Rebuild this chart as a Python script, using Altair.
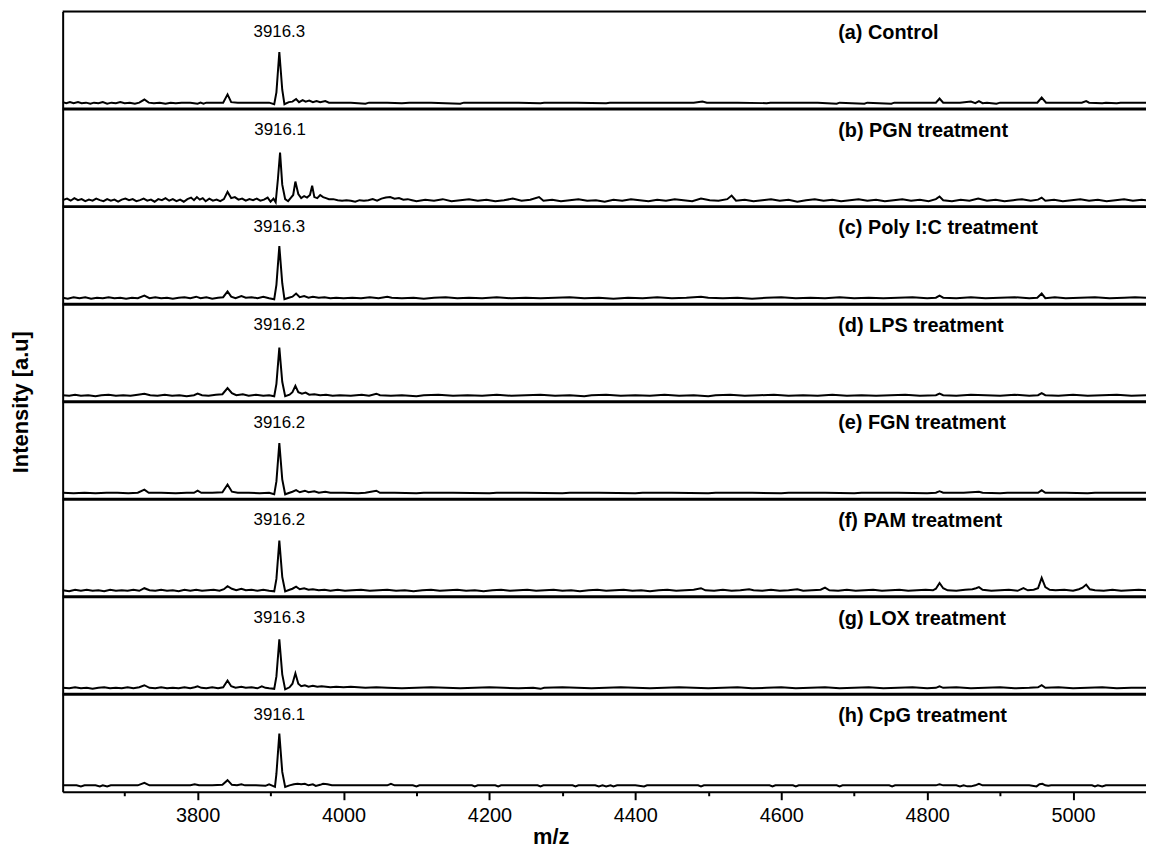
import altair as alt
import pandas as pd

PANEL_LABELS = ["(a) Control", "(b) PGN treatment", "(c) Poly I:C treatment", "(d) LPS treatment",
                "(e) FGN treatment", "(f) PAM treatment", "(g) LOX treatment", "(h) CpG treatment"]
PEAK_LABELS = ["3916.3", "3916.1", "3916.3", "3916.2", "3916.2", "3916.2", "3916.3", "3916.1"]
PEAK_MZ = [3912, 3913, 3912, 3912, 3912, 3912, 3912, 3912]
LABEL_MZ = 4678

TICKS_MAJOR = [3800, 4000, 4200, 4400, 4600, 4800, 5000]
TICKS_MINOR = [3700, 3900, 4100, 4300, 4500, 4700, 4900]
MZ_RANGE = [3615, 5100]

SPEC_A = [(3615,1),(3620,-1),(3625,1),(3630,-1),(3636,1),(3641,-1),(3647,0),(3653,-2),(3658,0),(3664,-1),(3670,1),(3676,-2),
          (3682,0),(3688,-1),(3694,1),(3700,-1),(3707,0),(3714,-2),(3720,0),(3727,6),(3733,0),(3740,-1),(3748,0),(3756,-2),
          (3763,0),(3770,-1),(3778,0),(3790,0),(3800,-2),(3804,0),(3808,-2),(3812,0),(3825,0),(3835,0),(3841,16),(3846,1),
          (3855,0),(3870,0),(3885,0),(3898,0),(3905,-3),(3908,20),(3912,98),(3916,25),(3919,-3),(3925,1),(3930,2),(3935,7),
          (3939,1),(3944,5),(3948,2),(3953,4),(3958,1),(3963,3),(3968,1),(3975,3),(3980,0),(3990,0),(4010,0),(4030,-2),
          (4035,0),(4060,0),(4080,-1),(4090,0),(4120,0),(4160,-2),(4165,0),(4200,0),(4240,0),(4270,-1),(4275,0),(4320,0),
          (4360,-1),(4365,0),(4400,0),(4440,0),(4480,0),(4492,2),(4498,0),(4540,0),(4580,-1),(4585,0),(4620,0),(4650,0),
          (4676,-2),(4680,0),(4714,-2),(4718,0),(4751,-2),(4755,0),(4790,0),(4812,0),(4817,8),(4822,0),(4845,0),(4860,2),
          (4866,-1),(4871,3),(4876,-1),(4882,0),(4895,-2),(4900,0),(4930,0),(4951,0),(4957,10),(4963,0),(4990,0),(5012,0),
          (5018,3),(5022,0),(5040,-1),(5045,0),(5060,-1),(5065,0),(5100,0)]

SPEC_B = [(3615,0),(3621,3),(3626,-1),(3631,4),(3636,0),(3641,2),(3646,-2),(3651,1),(3656,-1),(3661,3),(3666,0),(3671,-2),
          (3676,2),(3681,-1),(3686,1),(3691,-3),(3696,1),(3701,3),(3706,0),(3711,2),(3716,-2),(3721,0),(3726,3),(3731,-1),
          (3736,1),(3741,-3),(3746,2),(3751,0),(3756,4),(3761,-1),(3766,2),(3771,-2),(3776,1),(3781,-3),(3786,2),(3791,5),
          (3795,0),(3799,6),(3803,1),(3807,4),(3811,-2),(3816,3),(3821,-1),(3826,1),(3831,-2),(3836,2),(3841,16),(3846,4),
          (3851,6),(3856,1),(3861,3),(3866,-1),(3871,2),(3876,0),(3881,3),(3886,-1),(3891,1),(3896,5),(3900,-3),(3904,3),
          (3907,-4),(3910,40),(3913,92),(3916,30),(3920,2),(3924,-2),(3928,5),(3931,10),(3934,36),(3938,12),(3942,4),(3946,8),
          (3950,5),(3954,10),(3957,28),(3960,6),(3964,4),(3968,10),(3972,6),(3976,4),(3980,2),(3986,2),(3992,0),(3998,-1),
          (4004,0),(4010,-1),(4016,-3),(4022,0),(4028,-1),(4034,0),(4040,2),(4046,-1),(4052,3),(4058,5),(4064,6),(4070,3),
          (4076,4),(4082,1),(4088,2),(4094,0),(4100,-2),(4112,1),(4124,-1),(4136,2),(4148,-2),(4160,0),(4172,2),(4184,-1),
          (4196,1),(4208,-2),(4220,0),(4232,3),(4244,-1),(4256,1),(4268,6),(4274,-1),(4286,1),(4298,-2),(4310,0),(4322,2),
          (4334,-1),(4346,0),(4358,-3),(4370,1),(4382,-1),(4394,2),(4406,0),(4418,-2),(4430,1),(4442,-1),(4454,2),(4466,0),
          (4478,-2),(4490,3),(4502,0),(4514,-1),(4526,2),(4532,9),(4538,-1),(4550,1),(4562,-2),(4574,0),(4586,2),(4598,-1),
          (4610,1),(4622,-3),(4634,0),(4646,2),(4658,-1),(4670,1),(4682,-2),(4694,0),(4706,2),(4718,-1),(4730,1),(4742,-2),
          (4754,0),(4766,2),(4778,-1),(4790,1),(4802,-2),(4812,2),(4817,7),(4822,0),(4834,-2),(4846,1),(4858,-1),(4870,3),
          (4882,-1),(4894,1),(4906,-2),(4918,0),(4930,2),(4942,-1),(4952,1),(4957,5),(4962,-1),(4974,1),(4986,-2),(4998,0),
          (5010,2),(5022,-1),(5034,1),(5046,-2),(5058,0),(5070,2),(5082,-1),(5094,1),(5100,0)]

SPEC_C = [(3615,0),(3622,-2),(3630,1),(3638,-1),(3646,1),(3654,-2),(3662,0),(3670,-1),(3678,1),(3686,-1),(3694,0),(3702,-2),
          (3710,0),(3718,-1),(3727,4),(3734,-1),(3742,1),(3750,-1),(3758,0),(3766,-2),(3774,0),(3782,1),(3790,-1),(3798,2),
          (3804,-1),(3812,1),(3820,-2),(3828,0),(3835,1),(3841,12),(3846,2),(3852,-1),(3860,3),(3866,0),(3874,1),(3882,-1),
          (3890,2),(3898,-1),(3905,-3),(3908,25),(3912,100),(3916,28),(3919,-3),(3925,0),(3930,2),(3935,8),(3940,1),(3946,3),
          (3952,0),(3958,2),(3966,0),(3974,1),(3982,-1),(3990,0),(4000,-1),(4012,0),(4024,-1),(4036,1),(4048,-1),(4060,2),
          (4066,0),(4080,-1),(4096,0),(4110,-2),(4124,0),(4140,1),(4156,-1),(4172,0),(4190,-1),(4210,1),(4230,-1),(4250,0),
          (4270,-1),(4290,0),(4310,1),(4330,-1),(4350,0),(4370,-2),(4390,0),(4410,-1),(4430,1),(4450,-1),(4470,0),(4490,2),
          (4500,0),(4520,-1),(4540,0),(4560,-2),(4580,0),(4600,1),(4620,-1),(4640,0),(4660,-1),(4680,1),(4700,-1),(4720,0),
          (4740,-1),(4760,0),(4780,1),(4800,-1),(4812,0),(4817,4),(4822,0),(4840,-1),(4860,1),(4880,-1),(4900,0),(4920,1),
          (4940,-1),(4951,0),(4957,8),(4962,-1),(4975,1),(4990,-1),(5010,0),(5030,1),(5050,-1),(5070,0),(5085,1),(5100,0)]

SPEC_D = [(3615,0),(3624,-1),(3632,1),(3640,-1),(3650,0),(3660,-2),(3668,0),(3678,1),(3688,-1),(3698,0),(3708,-1),(3718,1),
          (3727,3),(3735,0),(3745,-1),(3755,1),(3765,-1),(3775,0),(3785,-2),(3795,0),(3800,3),(3806,0),(3815,-1),(3825,1),
          (3834,2),(3841,14),(3847,4),(3853,0),(3862,2),(3870,-1),(3880,1),(3890,-1),(3898,0),(3905,-2),(3908,22),(3912,92),
          (3916,26),(3920,-2),(3926,1),(3930,6),(3934,18),(3938,6),(3943,3),(3948,5),(3953,1),(3960,2),(3968,0),(3976,1),
          (3985,-1),(3995,0),(4010,-1),(4025,1),(4035,-1),(4045,3),(4050,0),(4065,-1),(4080,0),(4100,-2),(4110,0),(4130,1),
          (4150,-1),(4170,0),(4190,-1),(4210,1),(4230,-1),(4250,0),(4270,1),(4290,-1),(4310,0),(4330,-2),(4340,0),(4360,1),
          (4380,-1),(4400,0),(4420,-1),(4440,1),(4460,-1),(4480,0),(4500,-2),(4510,0),(4530,1),(4550,-1),(4570,0),(4590,1),
          (4610,-1),(4630,0),(4650,-1),(4670,1),(4690,-1),(4710,0),(4730,-1),(4750,0),(4770,1),(4790,-1),(4812,0),(4817,3),
          (4822,0),(4840,-1),(4860,1),(4880,0),(4900,-1),(4920,1),(4940,-1),(4952,0),(4957,4),(4962,0),(4980,-1),(5000,1),
          (5020,-1),(5040,0),(5060,1),(5080,-1),(5100,0)]

SPEC_E = [(3615,0),(3630,-1),(3645,0),(3660,-1),(3675,0),(3690,0),(3705,-1),(3718,0),(3727,6),(3733,0),(3750,0),(3770,-1),
          (3785,0),(3795,0),(3800,4),(3805,0),(3820,0),(3834,1),(3841,16),(3847,2),(3855,0),(3870,0),(3885,-1),(3898,0),
          (3905,-3),(3908,22),(3912,96),(3916,26),(3920,-3),(3926,0),(3930,2),(3935,5),(3940,1),(3947,4),(3952,1),(3960,3),
          (3966,0),(3975,2),(3982,0),(4000,0),(4020,-1),(4030,0),(4045,4),(4050,0),(4070,0),(4100,-1),(4110,0),(4150,0),
          (4200,-1),(4210,0),(4250,0),(4300,-1),(4310,0),(4350,0),(4400,-1),(4410,0),(4450,0),(4500,-1),(4510,0),(4560,0),
          (4600,-1),(4610,0),(4660,0),(4700,-1),(4710,0),(4760,0),(4800,-1),(4812,0),(4817,3),(4822,0),(4850,0),(4871,2),
          (4876,0),(4900,-1),(4910,0),(4940,0),(4952,0),(4957,5),(4962,0),(4990,0),(5020,-1),(5030,0),(5060,0),(5100,0)]

SPEC_F = [(3615,0),(3624,-2),(3632,1),(3640,-1),(3648,1),(3656,-1),(3664,0),(3672,-2),(3680,1),(3688,-1),(3696,0),(3704,-1),
          (3712,1),(3720,-1),(3727,4),(3734,0),(3742,-1),(3750,1),(3758,-1),(3766,0),(3774,-2),(3782,1),(3790,-1),(3798,1),
          (3806,-1),(3814,0),(3822,1),(3830,-1),(3836,2),(3841,8),(3847,3),(3853,0),(3860,3),(3866,0),(3874,1),(3882,-1),
          (3890,1),(3898,-1),(3905,-2),(3908,22),(3912,96),(3916,26),(3920,-2),(3926,1),(3930,3),(3935,7),(3940,2),(3946,4),
          (3952,1),(3958,2),(3966,0),(3974,1),(3982,-1),(3992,1),(4002,-1),(4012,0),(4024,1),(4036,-1),(4048,0),(4060,1),
          (4072,-1),(4084,0),(4096,-2),(4108,0),(4120,1),(4132,-1),(4144,0),(4156,1),(4168,-1),(4180,0),(4192,-2),(4204,0),
          (4216,1),(4228,-1),(4240,0),(4252,1),(4264,-1),(4276,0),(4288,1),(4300,-1),(4312,0),(4324,-2),(4336,0),(4348,1),
          (4360,-1),(4372,0),(4384,1),(4396,-1),(4408,0),(4420,-2),(4432,0),(4444,1),(4456,-1),(4468,0),(4480,1),(4490,4),
          (4496,0),(4508,-1),(4520,1),(4532,-1),(4544,0),(4556,2),(4562,0),(4574,-1),(4586,1),(4598,-1),(4610,0),(4622,2),
          (4630,-1),(4642,0),(4654,1),(4660,5),(4666,0),(4678,-1),(4690,1),(4702,-1),(4714,0),(4726,1),(4738,-1),(4750,0),
          (4762,1),(4774,-1),(4786,0),(4798,1),(4808,0),(4812,3),(4817,14),(4822,4),(4828,0),(4840,-1),(4852,1),(4862,2),
          (4867,4),(4871,6),(4876,1),(4888,-1),(4900,0),(4912,1),(4924,-1),(4932,4),(4938,0),(4946,1),(4952,4),(4957,24),
          (4962,6),(4968,1),(4976,0),(4988,1),(5000,-1),(5008,2),(5013,5),(5018,11),(5023,2),(5030,0),(5042,-1),(5054,1),
          (5066,-1),(5078,0),(5090,1),(5100,0)]

SPEC_G = [(3615,0),(3624,-1),(3632,1),(3640,-1),(3648,0),(3656,-2),(3664,0),(3672,1),(3680,-1),(3688,0),(3696,-1),(3704,1),
          (3712,-1),(3720,1),(3727,5),(3734,0),(3742,-1),(3750,1),(3758,-1),(3766,0),(3774,-1),(3782,1),(3790,-1),(3796,1),
          (3800,3),(3805,0),(3812,-1),(3820,1),(3828,-1),(3835,1),(3841,14),(3846,3),(3852,0),(3860,2),(3866,0),(3874,1),
          (3882,-1),(3888,3),(3893,0),(3898,-1),(3905,-2),(3908,22),(3912,94),(3916,26),(3920,-3),(3926,1),(3930,8),(3934,28),
          (3938,8),(3942,3),(3947,5),(3952,2),(3958,4),(3964,2),(3970,3),(3976,2),(3982,1),(3990,2),(4000,1),(4010,2),
          (4020,1),(4030,0),(4045,1),(4060,0),(4080,-1),(4100,0),(4120,1),(4140,0),(4160,-1),(4180,0),(4200,1),(4220,0),
          (4240,-1),(4260,0),(4270,-2),(4275,0),(4300,1),(4320,0),(4340,-1),(4360,0),(4380,1),(4400,0),(4420,-1),(4440,0),
          (4460,1),(4480,0),(4500,-1),(4520,0),(4540,1),(4560,-1),(4580,0),(4600,1),(4620,-1),(4640,0),(4660,1),(4680,-1),
          (4700,0),(4720,1),(4740,-1),(4760,0),(4780,1),(4800,-1),(4812,0),(4817,3),(4822,0),(4840,1),(4860,-1),(4880,0),
          (4900,1),(4920,-1),(4940,0),(4952,1),(4957,5),(4962,0),(4980,1),(5000,-1),(5020,0),(5040,1),(5060,-1),(5080,0),
          (5100,0)]

SPEC_H = [(3615,0),(3634,0),(3640,-2),(3645,0),(3660,0),(3666,-2),(3670,0),(3676,-2),(3681,0),(3700,0),(3718,0),(3727,5),
          (3734,0),(3760,0),(3790,0),(3796,2),(3802,0),(3820,0),(3834,1),(3841,10),(3847,1),(3854,0),(3860,2),(3865,0),
          (3880,0),(3893,-1),(3898,2),(3903,-1),(3906,-3),(3908,22),(3912,100),(3916,26),(3920,-3),(3926,0),(3932,2),(3937,3),
          (3942,2),(3947,3),(3952,0),(3958,2),(3962,-1),(3968,1),(3972,3),(3978,2),(3984,0),(4000,0),(4030,0),(4060,0),
          (4065,3),(4070,0),(4095,0),(4100,-2),(4104,0),(4150,0),(4176,0),(4180,-2),(4184,0),(4208,0),(4212,-2),(4216,0),
          (4250,0),(4266,0),(4270,-2),(4274,0),(4300,0),(4314,0),(4318,-2),(4322,0),(4345,0),(4350,-2),(4355,0),(4360,-2),
          (4366,0),(4370,-2),(4375,0),(4400,0),(4412,-2),(4416,0),(4450,0),(4486,0),(4490,-2),(4494,0),(4540,0),(4584,0),
          (4588,-2),(4592,0),(4616,0),(4620,-2),(4624,0),(4650,0),(4676,0),(4680,-2),(4684,0),(4720,0),(4748,0),(4752,-2),
          (4756,0),(4790,0),(4812,0),(4817,2),(4822,0),(4840,0),(4845,-2),(4850,0),(4855,-2),(4860,-2),(4866,0),(4871,3),
          (4876,0),(4900,0),(4940,0),(4950,-2),(4954,2),(4958,3),(4962,0),(4966,-1),(4970,0),(5000,0),(5026,0),(5030,-2),
          (5034,0),(5040,-2),(5045,0),(5070,0),(5100,0)]

SPECTRA = [SPEC_A, SPEC_B, SPEC_C, SPEC_D, SPEC_E, SPEC_F, SPEC_G, SPEC_H]
N = len(SPECTRA)

rows = []
for i, spec in enumerate(SPECTRA):
    for mz, v in spec:
        rows.append({"panel": i, "mz": mz, "intensity": v})
spec_df = pd.DataFrame(rows)

label_df = pd.DataFrame({
    "panel": list(range(N)),
    "peak_label": PEAK_LABELS,
    "peak_mz": PEAK_MZ,
    "name": PANEL_LABELS,
    "name_mz": [LABEL_MZ] * N,
})
sep_df = pd.DataFrame({"b": list(range(1, N))})
top_df = pd.DataFrame({"b": [N]})

FONT = "Liberation Sans"
BASE = 0.066
SCALE = 0.0053

xscale = alt.Scale(domain=MZ_RANGE, nice=False, zero=False)
yscale = alt.Scale(domain=[0, N], nice=False, zero=False)

xaxis = alt.Axis(
    values=sorted(TICKS_MAJOR + TICKS_MINOR),
    labelExpr="datum.value % 200 == 0 ? format(datum.value, 'd') : ''",
    tickSize=alt.condition("datum.value % 200 == 0", alt.value(8), alt.value(4)),
    tickColor="black", tickWidth=2, domainColor="black", domainWidth=2,
    labelFont=FONT, labelFontSize=20, labelColor="black", labelPadding=6, labelFlush=False,
    title="m/z", titleFont=FONT, titleFontSize=22, titleFontWeight="bold", titleColor="black",
    titlePadding=1, titleX=491, grid=False,
)
yaxis = alt.Axis(
    labels=False, ticks=False, tickSize=0, grid=False, domain=True, domainColor="black", domainWidth=2,
    title="Intensity [a.u]", titleFont=FONT, titleFontSize=22, titleFontWeight="bold", titleColor="black",
    titlePadding=30,
)

X = lambda f: alt.X(f, scale=xscale, axis=xaxis, title="m/z")
Y = lambda f: alt.Y(f, scale=yscale, axis=yaxis, title="Intensity [a.u]")

lines = alt.Chart(spec_df).transform_calculate(
    yy=f"{N - 1} - datum.panel + {BASE} + datum.intensity * {SCALE}"
).mark_line(color="black", strokeWidth=2, clip=True).encode(
    x=X("mz:Q"), y=Y("yy:Q"), detail="panel:N"
)

seps = alt.Chart(sep_df).mark_rule(color="black", strokeWidth=3).encode(y=Y("b:Q"))
top = alt.Chart(top_df).mark_rule(color="black", strokeWidth=2).encode(y=Y("b:Q"))

peak_text = alt.Chart(label_df).transform_calculate(
    yy=f"{N} - datum.panel - 0.214"
).mark_text(font=FONT, fontSize=17, color="black", align="center", baseline="middle").encode(
    x=X("peak_mz:Q"), y=Y("yy:Q"), text="peak_label:N"
)

name_text = alt.Chart(label_df).transform_calculate(
    yy=f"{N} - datum.panel - 0.224"
).mark_text(font=FONT, fontSize=20, fontWeight="bold", color="black", align="left", baseline="middle").encode(
    x=X("name_mz:Q"), y=Y("yy:Q"), text="name:N"
)

chart = alt.layer(lines, seps, top, peak_text, name_text).properties(
    width=1090, height=785,
    autosize=alt.AutoSizeParams(type="none"),
    padding={"left": 55, "top": 1, "right": 0, "bottom": 56},
).configure_view(stroke=None).configure(background="white")

chart.save("out.html", embed_options={"renderer": "svg", "actions": False})
